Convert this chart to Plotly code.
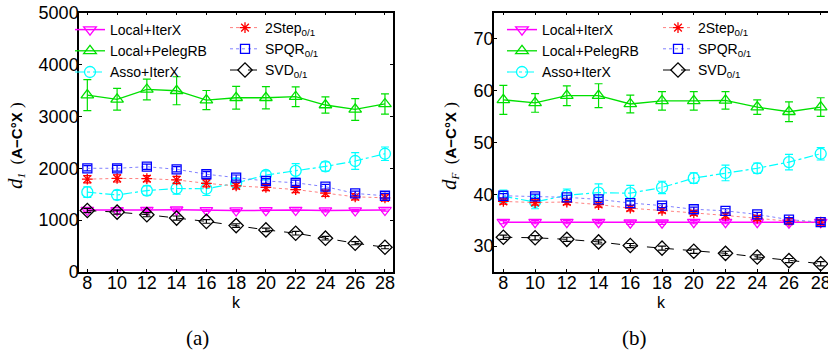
import plotly.graph_objects as go

# ---- data -------------------------------------------------------------
k = [8, 10, 12, 14, 16, 18, 20, 22, 24, 26, 28]

# panel (a): d_1 distance
d1_local_iterx = [1195, 1190, 1195, 1200, 1190, 1185, 1190, 1195, 1185, 1185, 1195]
d1_local_iterx_err = [20, 20, 25, 20, 20, 20, 20, 20, 25, 20, 20]
d1_local_peleg = [3410, 3330, 3520, 3495, 3315, 3360, 3360, 3380, 3220, 3135, 3240]
d1_local_peleg_err = [300, 210, 200, 270, 185, 220, 215, 190, 155, 210, 195]
d1_asso_iterx = [1540, 1485, 1570, 1610, 1605, 1715, 1870, 1950, 2035, 2140, 2280]
d1_asso_iterx_err = [100, 90, 90, 110, 130, 90, 80, 140, 90, 160, 130]
d1_2step = [1790, 1805, 1800, 1775, 1710, 1660, 1630, 1590, 1520, 1450, 1430]
d1_2step_err = [70, 70, 60, 70, 70, 60, 60, 60, 60, 60, 60]
d1_spqr = [2000, 2000, 2030, 1980, 1885, 1820, 1755, 1720, 1645, 1515, 1470]
d1_spqr_err = [50, 55, 50, 50, 50, 50, 45, 50, 45, 45, 45]
d1_svd = [1185, 1155, 1105, 1040, 975, 895, 812, 748, 652, 555, 478]
d1_svd_err = [40, 40, 40, 40, 35, 35, 35, 35, 35, 30, 30]

# panel (b): d_F distance
dF_local_iterx = [34.6, 34.6, 34.6, 34.6, 34.5, 34.5, 34.6, 34.6, 34.6, 34.5, 34.6]
dF_local_iterx_err = [0.3, 0.3, 0.3, 0.3, 0.3, 0.3, 0.3, 0.3, 0.3, 0.3, 0.3]
dF_local_peleg = [58.2, 57.6, 59.0, 59.0, 57.4, 58.0, 58.0, 58.1, 56.8, 55.9, 56.8]
dF_local_peleg_err = [2.8, 1.8, 1.9, 2.3, 1.7, 1.8, 1.8, 1.7, 1.4, 1.9, 1.8]
dF_asso_iterx = [39.6, 38.5, 39.8, 40.3, 40.2, 41.3, 43.1, 44.1, 45.0, 46.2, 47.8]
dF_asso_iterx_err = [1.2, 1.3, 1.2, 1.7, 1.5, 1.2, 1.0, 1.5, 1.0, 1.5, 1.2]
dF_2step = [38.6, 38.4, 38.5, 38.0, 37.3, 36.9, 36.4, 35.9, 35.4, 34.8, 34.6]
dF_2step_err = [0.5, 0.5, 0.5, 0.5, 0.5, 0.5, 0.5, 0.5, 0.5, 0.5, 0.5]
dF_spqr = [39.7, 39.6, 39.4, 39.0, 38.3, 37.8, 37.1, 36.8, 36.1, 35.1, 34.6]
dF_spqr_err = [0.4, 0.4, 0.4, 0.4, 0.4, 0.4, 0.4, 0.4, 0.4, 0.4, 0.4]
dF_svd = [31.7, 31.6, 31.3, 30.8, 30.1, 29.6, 29.0, 28.6, 27.9, 27.2, 26.6]
dF_svd_err = [0.4, 0.4, 0.4, 0.4, 0.4, 0.4, 0.4, 0.4, 0.4, 0.4, 0.4]

names = ["Local+IterX", "Local+PelegRB", "Asso+IterX",
         "2Step<sub>0/1</sub>", "SPQR<sub>0/1</sub>", "SVD<sub>0/1</sub>"]

# ---- styles per method ------------------------------------------------
styles = [
    dict(color="#ff00ff", symbol="triangle-down-open", size=11, dash="solid", lw=1.5),
    dict(color="#00e000", symbol="triangle-up-open", size=11, dash="solid", lw=1.3),
    dict(color="#00ffff", symbol="circle-open", size=11, dash="dashdot", lw=1.2),
    dict(color="#ff0000", symbol="asterisk-open", size=9, dash="dot", lw=1.0),
    dict(color="#0000ff", symbol="square-open", size=9, dash="dot", lw=1.0),
    dict(color="#000000", symbol="diamond-open", size=11, dash="dash", lw=1.0),
]
line_colors = ["#ff00ff", "#00e000", "#00ffff", "#ff8080", "#8080ff", "#000000"]

panel_a = [(d1_local_iterx, d1_local_iterx_err), (d1_local_peleg, d1_local_peleg_err),
           (d1_asso_iterx, d1_asso_iterx_err), (d1_2step, d1_2step_err),
           (d1_spqr, d1_spqr_err), (d1_svd, d1_svd_err)]
panel_b = [(dF_local_iterx, dF_local_iterx_err), (dF_local_peleg, dF_local_peleg_err),
           (dF_asso_iterx, dF_asso_iterx_err), (dF_2step, dF_2step_err),
           (dF_spqr, dF_spqr_err), (dF_svd, dF_svd_err)]

fig = go.Figure()


def add_panel(series, xa, ya, leg_left, leg_right):
    for i, (vals, errs) in enumerate(series):
        st = styles[i]
        fig.add_trace(go.Scatter(
            x=k, y=vals, name=names[i], mode="lines+markers",
            xaxis=xa, yaxis=ya,
            legend=leg_left if i < 3 else leg_right,
            line=dict(color=line_colors[i], width=st["lw"], dash=st["dash"]),
            marker=dict(symbol=st["symbol"], size=st["size"], color=st["color"],
                        line=dict(color=st["color"], width=1.3)),
            error_y=dict(type="data", array=errs, visible=True,
                         color=st["color"], thickness=1.2, width=4),
            cliponaxis=False,
        ))


add_panel(panel_a, "x", "y", "legend", "legend2")
add_panel(panel_b, "x2", "y2", "legend3", "legend4")

W, H = 828, 354
axis_common = dict(showgrid=False, zeroline=False, showline=True, linecolor="black",
                   linewidth=1.5, ticks="inside", ticklen=3, tickwidth=1.2,
                   tickcolor="black", tickfont=dict(size=18, color="black"),
                   ticklabeloverflow="allow", automargin=False)

fig.update_layout(
    width=W, height=H,
    margin=dict(l=0, r=0, t=0, b=0, pad=0),
    paper_bgcolor="white", plot_bgcolor="white",
    font=dict(family="Liberation Sans, Arial, sans-serif", size=18, color="black"),
    xaxis=dict(domain=[79 / W, 393 / W], range=[7.44, 28.54], tickvals=k,
               mirror="ticks", anchor="y", ticklabelstandoff=-6, **axis_common),
    yaxis=dict(domain=[82 / H, 341.3 / H], range=[0, 5000],
               tickvals=[0, 1000, 2000, 3000, 4000, 5000],
               mirror="ticks", anchor="x", ticklabelstandoff=-5, **axis_common),
    xaxis2=dict(domain=[494 / W, 1.0], range=[7.41, 28.46], tickvals=k,
                mirror="ticks", anchor="y2", ticklabelstandoff=-6, **axis_common),
    yaxis2=dict(domain=[82 / H, 341.3 / H], range=[25, 75],
                tickvals=[30, 40, 50, 60, 70],
                mirror=False, anchor="x2", ticklabelstandoff=-5, **axis_common),
    showlegend=True,
)

leg_common = dict(orientation="v", xanchor="left", yanchor="top",
                  bgcolor="rgba(0,0,0,0)", borderwidth=0,
                  font=dict(size=14, color="black"), tracegroupgap=0)
fig.update_layout(
    legend=dict(x=70 / W, y=1 - 14 / H, **leg_common),
    legend2=dict(x=225 / W, y=1 - 12 / H, **leg_common),
    legend3=dict(x=502 / W, y=1 - 14 / H, **leg_common),
    legend4=dict(x=658 / W, y=1 - 12 / H, **leg_common),
)


def ylabel(sub):
    serif = "font-family:Liberation Serif"
    return (f'<span style="{serif};font-size:21px"><i>d</i></span>'
            f'<sub><span style="{serif}"><i>{sub}</i></span></sub>'
            f'<span style="{serif};font-size:17px">  (</span>'
            '<b><span style="font-size:15px">A\u2212C\u00b0X</span></b>'
            f'<span style="{serif};font-size:17px"> )</span>')


ann = [
    dict(text=ylabel("1"), x=15 / W, y=1 - 146 / H, textangle=-90),
    dict(text=ylabel("F"), x=449 / W, y=1 - 146 / H, textangle=-90),
    dict(text="k", x=236 / W, y=1 - 302 / H),
    dict(text="k", x=661 / W, y=1 - 302 / H),
    dict(text="(a)", x=197 / W, y=1 - 338 / H,
         font=dict(family="Liberation Serif, serif", size=21, color="black")),
    dict(text="(b)", x=634 / W, y=1 - 338 / H,
         font=dict(family="Liberation Serif, serif", size=21, color="black")),
]
for a in ann:
    a.update(xref="paper", yref="paper", showarrow=False,
             xanchor="center", yanchor="middle")
    a.setdefault("font", dict(size=16, color="black"))
    fig.add_annotation(**a)

fig.write_html("out.html")
